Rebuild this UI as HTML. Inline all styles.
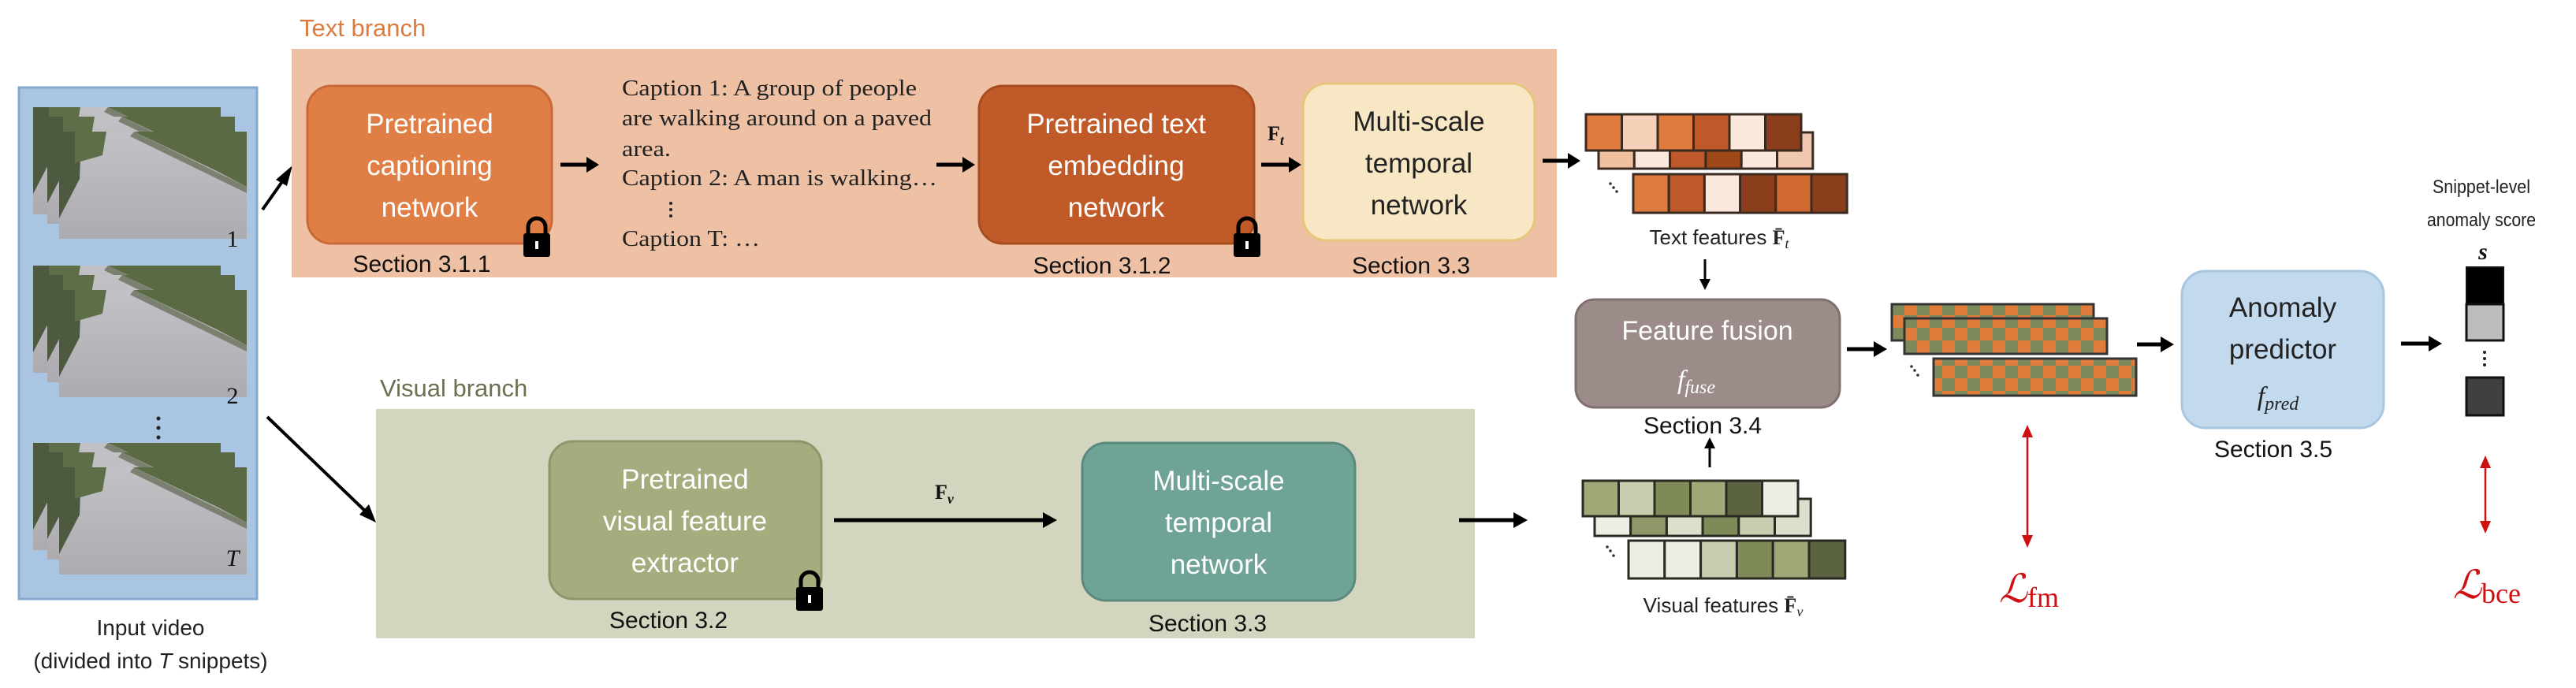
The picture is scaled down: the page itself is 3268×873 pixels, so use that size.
<!DOCTYPE html>
<html><head><meta charset="utf-8"><style>
html,body{margin:0;padding:0;background:#fff;}
svg{display:block;}
.s{font-family:"Liberation Sans Narrow","Liberation Sans",sans-serif;}
.r{font-family:"Liberation Serif",serif;}
</style></head><body>
<svg width="3268" height="873" viewBox="0 0 3268 873" xmlns="http://www.w3.org/2000/svg">
<defs>
<pattern id="chk" x="0" y="0" width="32" height="32" patternUnits="userSpaceOnUse">
<rect width="32" height="32" fill="#e07c3c"/><rect width="16" height="16" fill="#7d8a5c"/><rect x="16" y="16" width="16" height="16" fill="#7d8a5c"/>
</pattern>
<linearGradient id="ground" x1="0" y1="0" x2="0" y2="1">
<stop offset="0" stop-color="#c2c2c6"/><stop offset="1" stop-color="#acacb0"/>
</linearGradient>
<g id="frame">
<rect width="238" height="136" fill="url(#ground)"/>
<polygon points="0,0 28,0 26,60 0,110" fill="#4d5a40"/>
<polygon points="20,0 60,0 55,30 20,40" fill="#5d6e48"/>
<polygon points="95,0 238,0 238,70 200,50" fill="#5a6a42"/>
<polygon points="95,0 238,70 238,78 90,6" fill="#7c8070"/>
</g>
<g id="lock">
<path d="M8,22 V12 a11,11 0 0 1 22,0 V22" fill="none" stroke="#000" stroke-width="5"/>
<rect x="2" y="20" width="34" height="30" rx="3" fill="#000"/>
<rect x="17" y="30" width="4" height="10" fill="#fff"/>
</g>
</defs>

<!-- Input video panel -->
<rect x="24" y="111" width="302" height="649" fill="#a9c5e2" stroke="#86a9cf" stroke-width="3"/>
<g>
<use href="#frame" x="42" y="136"/><use href="#frame" x="60" y="148"/><use href="#frame" x="75" y="167"/>
<use href="#frame" x="42" y="337"/><use href="#frame" x="60" y="349"/><use href="#frame" x="75" y="368"/>
<use href="#frame" x="42" y="562"/><use href="#frame" x="60" y="574"/><use href="#frame" x="75" y="593"/>
</g>
<text x="295" y="313" class="r" font-size="30" text-anchor="middle" fill="#111">1</text>
<text x="295" y="512" class="r" font-size="30" text-anchor="middle" fill="#111">2</text>
<text x="295" y="718" class="r" font-size="30" font-style="italic" text-anchor="middle" fill="#111">T</text>
<circle cx="201" cy="531" r="2.5" fill="#222"/><circle cx="201" cy="543" r="2.5" fill="#222"/><circle cx="201" cy="555" r="2.5" fill="#222"/>
<text x="191" y="806" class="s" font-size="28" text-anchor="middle" fill="#222">Input video</text>
<text x="191" y="848" class="s" font-size="28" text-anchor="middle" fill="#222">(divided into <tspan font-style="italic">T</tspan> snippets)</text>

<!-- diag arrows -->
<line x1="333" y1="266" x2="364" y2="222" stroke="#000" stroke-width="4"/>
<polygon points="371,210 350,228 364,236" fill="#000"/>
<line x1="339" y1="529" x2="467" y2="652" stroke="#000" stroke-width="4"/>
<polygon points="477,663 456,653 468,640" fill="#000"/>

<!-- Text branch -->
<text x="380" y="46" class="s" font-size="31" fill="#dd7a3e">Text branch</text>
<rect x="370" y="62" width="1605" height="290" fill="#efc1a4"/>
<rect x="390" y="109" width="310" height="200" rx="30" fill="#e07f45" stroke="#c8693a" stroke-width="3"/>
<g class="s" font-size="35" fill="#fff" text-anchor="middle">
<text x="545" y="169">Pretrained</text><text x="545" y="222">captioning</text><text x="545" y="275">network</text>
</g>
<use href="#lock" x="662" y="276"/>
<text x="535" y="345" class="s" font-size="30" text-anchor="middle" fill="#111">Section 3.1.1</text>

<line x1="711" y1="209" x2="745" y2="209" stroke="#000" stroke-width="5"/><polygon points="760,209 744,199 744,219" fill="#000"/>

<g class="r" font-size="28" fill="#222">
<text x="789" y="121" textLength="374" lengthAdjust="spacingAndGlyphs">Caption 1: A group of people</text>
<text x="789" y="159" textLength="393" lengthAdjust="spacingAndGlyphs">are walking around on a paved</text>
<text x="789" y="198" textLength="62" lengthAdjust="spacingAndGlyphs">area.</text>
<text x="789" y="235" textLength="400" lengthAdjust="spacingAndGlyphs">Caption 2: A man is walking…</text>
<text x="789" y="312" textLength="175" lengthAdjust="spacingAndGlyphs">Caption T: …</text>
</g>
<circle cx="851" cy="258" r="2" fill="#222"/><circle cx="851" cy="266" r="2" fill="#222"/><circle cx="851" cy="274" r="2" fill="#222"/>

<line x1="1188" y1="209" x2="1222" y2="209" stroke="#000" stroke-width="5"/><polygon points="1237,209 1221,199 1221,219" fill="#000"/>

<rect x="1242" y="109" width="349" height="200" rx="30" fill="#c05a28" stroke="#a84c20" stroke-width="3"/>
<g class="s" font-size="35" fill="#fff" text-anchor="middle">
<text x="1416" y="169">Pretrained text</text><text x="1416" y="222">embedding</text><text x="1416" y="275">network</text>
</g>
<use href="#lock" x="1563" y="276"/>
<text x="1398" y="347" class="s" font-size="30" text-anchor="middle" fill="#111">Section 3.1.2</text>

<text x="1608" y="178" class="r" font-size="26" font-weight="bold" fill="#111">F<tspan font-size="18" font-style="italic" dy="6">t</tspan></text>
<line x1="1600" y1="209" x2="1636" y2="209" stroke="#000" stroke-width="5"/><polygon points="1651,209 1635,199 1635,219" fill="#000"/>

<rect x="1653" y="106" width="294" height="199" rx="30" fill="#f8e7c4" stroke="#e6c67a" stroke-width="3"/>
<g class="s" font-size="35" fill="#222" text-anchor="middle">
<text x="1800" y="166">Multi-scale</text><text x="1800" y="219">temporal</text><text x="1800" y="272">network</text>
</g>
<text x="1790" y="347" class="s" font-size="30" text-anchor="middle" fill="#111">Section 3.3</text>

<line x1="1957" y1="204" x2="1990" y2="204" stroke="#000" stroke-width="5"/><polygon points="2005,204 1989,194 1989,214" fill="#000"/>

<!-- text features -->
<g stroke="#3a2a20" stroke-width="3">
<rect x="2028" y="168" width="45.3" height="46" fill="#f0c0a0"/><rect x="2073.3" y="168" width="45.3" height="46" fill="#fbe8dc"/><rect x="2118.6" y="168" width="45.3" height="46" fill="#c0592a"/><rect x="2163.9" y="168" width="45.3" height="46" fill="#a04818"/><rect x="2209.2" y="168" width="45.3" height="46" fill="#fbe8dc"/><rect x="2254.5" y="168" width="45.3" height="46" fill="#f0c8b0"/>
<rect x="2012" y="145" width="45.5" height="46" fill="#e07b40"/><rect x="2057.5" y="145" width="45.5" height="46" fill="#f5d0b8"/><rect x="2103" y="145" width="45.5" height="46" fill="#e07b40"/><rect x="2148.5" y="145" width="45.5" height="46" fill="#c0592a"/><rect x="2194" y="145" width="45.5" height="46" fill="#fbe8dc"/><rect x="2239.5" y="145" width="45.5" height="46" fill="#8a3e1c"/>
<rect x="2072" y="221" width="45.2" height="49" fill="#e07b40"/><rect x="2117.2" y="221" width="45.2" height="49" fill="#c0592a"/><rect x="2162.4" y="221" width="45.2" height="49" fill="#fbe8dc"/><rect x="2207.6" y="221" width="45.2" height="49" fill="#8a3e1c"/><rect x="2252.8" y="221" width="45.2" height="49" fill="#d06a30"/><rect x="2298" y="221" width="45.2" height="49" fill="#8a3e1c"/>
</g>
<circle cx="2043" cy="233" r="1.8" fill="#333"/><circle cx="2047" cy="238" r="1.8" fill="#333"/><circle cx="2051" cy="243" r="1.8" fill="#333"/>
<text x="2181" y="310" class="s" font-size="26" text-anchor="middle" fill="#222">Text features <tspan class="r" font-weight="bold">F̄</tspan><tspan class="r" font-size="18" font-style="italic" dy="5">t</tspan></text>

<line x1="2163" y1="329" x2="2163" y2="355" stroke="#000" stroke-width="3"/><polygon points="2163,368 2156,354 2170,354" fill="#000"/>

<!-- fusion -->
<rect x="1999" y="380" width="335" height="137" rx="24" fill="#9b8b89" stroke="#7f706e" stroke-width="3"/>
<text x="2166" y="431" class="s" font-size="34" text-anchor="middle" fill="#fff">Feature fusion</text>
<text x="2152" y="493" class="r" font-size="34" font-style="italic" text-anchor="middle" fill="#fff">f<tspan font-size="24" dy="6">fuse</tspan></text>
<text x="2160" y="550" class="s" font-size="30" text-anchor="middle" fill="#111">Section 3.4</text>
<line x1="2169" y1="593" x2="2169" y2="568" stroke="#000" stroke-width="3"/><polygon points="2169,555 2162,569 2176,569" fill="#000"/>

<!-- visual features -->
<g stroke="#2a2a22" stroke-width="3">
<rect x="2023" y="633" width="45.7" height="47" fill="#eceee4"/><rect x="2068.7" y="633" width="45.7" height="47" fill="#8e9868"/><rect x="2114.4" y="633" width="45.7" height="47" fill="#dcdfcc"/><rect x="2160.1" y="633" width="45.7" height="47" fill="#7e8a58"/><rect x="2205.8" y="633" width="45.7" height="47" fill="#c8cdb0"/><rect x="2251.5" y="633" width="45.7" height="47" fill="#dcdfcc"/>
<rect x="2008" y="610" width="45.5" height="45" fill="#a0a878"/><rect x="2053.5" y="610" width="45.5" height="45" fill="#c8cdb0"/><rect x="2099" y="610" width="45.5" height="45" fill="#7e8a58"/><rect x="2144.5" y="610" width="45.5" height="45" fill="#a0a878"/><rect x="2190" y="610" width="45.5" height="45" fill="#5a6440"/><rect x="2235.5" y="610" width="45.5" height="45" fill="#eceee4"/>
<rect x="2066" y="686" width="45.8" height="48" fill="#eceee4"/><rect x="2111.8" y="686" width="45.8" height="48" fill="#eceee4"/><rect x="2157.6" y="686" width="45.8" height="48" fill="#c8cdb0"/><rect x="2203.4" y="686" width="45.8" height="48" fill="#7e8a58"/><rect x="2249.2" y="686" width="45.8" height="48" fill="#a0a878"/><rect x="2295" y="686" width="45.8" height="48" fill="#5a6440"/>
</g>
<circle cx="2039" cy="694" r="1.8" fill="#333"/><circle cx="2043" cy="699" r="1.8" fill="#333"/><circle cx="2047" cy="705" r="1.8" fill="#333"/>
<text x="2186" y="777" class="s" font-size="26" text-anchor="middle" fill="#222">Visual features <tspan class="r" font-weight="bold">F̄</tspan><tspan class="r" font-size="18" font-style="italic" dy="5">v</tspan></text>

<!-- Visual branch -->
<text x="482" y="503" class="s" font-size="31" fill="#6b7050">Visual branch</text>
<rect x="477" y="519" width="1394" height="291" fill="#d3d5bf"/>
<rect x="697" y="560" width="345" height="200" rx="30" fill="#a4ad7e" stroke="#8d9668" stroke-width="3"/>
<g class="s" font-size="35" fill="#fff" text-anchor="middle">
<text x="869" y="620">Pretrained</text><text x="869" y="673">visual feature</text><text x="869" y="726">extractor</text>
</g>
<use href="#lock" x="1008" y="725"/>
<text x="848" y="797" class="s" font-size="30" text-anchor="middle" fill="#111">Section 3.2</text>
<text x="1186" y="633" class="r" font-size="26" font-weight="bold" fill="#111">F<tspan font-size="18" font-style="italic" dy="6">v</tspan></text>
<line x1="1058" y1="660" x2="1325" y2="660" stroke="#000" stroke-width="5"/><polygon points="1341,660 1323,650 1323,670" fill="#000"/>
<rect x="1373" y="562" width="346" height="200" rx="30" fill="#6fa396" stroke="#5a8a7e" stroke-width="3"/>
<g class="s" font-size="35" fill="#fff" text-anchor="middle">
<text x="1546" y="622">Multi-scale</text><text x="1546" y="675">temporal</text><text x="1546" y="728">network</text>
</g>
<text x="1532" y="801" class="s" font-size="30" text-anchor="middle" fill="#111">Section 3.3</text>
<line x1="1851" y1="660" x2="1922" y2="660" stroke="#000" stroke-width="5"/><polygon points="1938,660 1920,650 1920,670" fill="#000"/>

<!-- fusion -> fused -->
<line x1="2343" y1="443" x2="2378" y2="443" stroke="#000" stroke-width="5"/><polygon points="2394,443 2377,433 2377,453" fill="#000"/>
<g stroke="#333" stroke-width="3">
<rect x="2400" y="386" width="256" height="46" fill="url(#chk)"/>
<rect x="2416" y="404" width="257" height="45" fill="url(#chk)"/>
<rect x="2453" y="455" width="257" height="47" fill="url(#chk)"/>
</g>
<circle cx="2425" cy="465" r="1.8" fill="#333"/><circle cx="2429" cy="470" r="1.8" fill="#333"/><circle cx="2433" cy="476" r="1.8" fill="#333"/>
<line x1="2711" y1="437" x2="2742" y2="437" stroke="#000" stroke-width="5"/><polygon points="2758,437 2741,427 2741,447" fill="#000"/>

<!-- predictor -->
<rect x="2768" y="344" width="256" height="199" rx="30" fill="#c3d9ed" stroke="#a9c6e0" stroke-width="3"/>
<text x="2896" y="402" class="s" font-size="35" text-anchor="middle" fill="#222">Anomaly</text>
<text x="2896" y="455" class="s" font-size="35" text-anchor="middle" fill="#222">predictor</text>
<text x="2890" y="514" class="r" font-size="34" font-style="italic" text-anchor="middle" fill="#222">f<tspan font-size="24" dy="6">pred</tspan></text>
<text x="2884" y="580" class="s" font-size="30" text-anchor="middle" fill="#111">Section 3.5</text>
<line x1="3046" y1="436" x2="3082" y2="436" stroke="#000" stroke-width="5"/><polygon points="3098,436 3081,426 3081,446" fill="#000"/>

<!-- score -->
<text x="3148" y="245" class="s" font-size="24" text-anchor="middle" fill="#222" textLength="124" lengthAdjust="spacingAndGlyphs">Snippet-level</text>
<text x="3148" y="287" class="s" font-size="24" text-anchor="middle" fill="#222" textLength="138" lengthAdjust="spacingAndGlyphs">anomaly score</text>
<text x="3150" y="329" class="r" font-size="30" font-weight="bold" font-style="italic" text-anchor="middle" fill="#111">s</text>
<rect x="3129" y="339" width="47" height="47" fill="#000" stroke="#111" stroke-width="2"/>
<rect x="3129" y="386" width="47" height="46" fill="#bdbdbd" stroke="#111" stroke-width="3"/>
<circle cx="3152" cy="447" r="2" fill="#222"/><circle cx="3152" cy="455" r="2" fill="#222"/><circle cx="3152" cy="463" r="2" fill="#222"/>
<rect x="3129" y="479" width="47" height="48" fill="#404040" stroke="#111" stroke-width="3"/>

<!-- losses -->
<line x1="2572" y1="552" x2="2572" y2="682" stroke="#d01010" stroke-width="2.5"/>
<polygon points="2572,539 2565,555 2579,555" fill="#d01010"/><polygon points="2572,695 2565,679 2579,679" fill="#d01010"/>
<text x="2574" y="764" class="r" font-size="50" font-style="italic" text-anchor="middle" fill="#d01010">ℒ<tspan font-style="normal" font-size="36" dy="6">fm</tspan></text>
<line x1="3153" y1="591" x2="3153" y2="664" stroke="#d01010" stroke-width="2.5"/>
<polygon points="3153,578 3146,594 3160,594" fill="#d01010"/><polygon points="3153,677 3146,661 3160,661" fill="#d01010"/>
<text x="3155" y="759" class="r" font-size="50" font-style="italic" text-anchor="middle" fill="#d01010">ℒ<tspan font-style="normal" font-size="36" dy="6">bce</tspan></text>
</svg>
</body></html>
